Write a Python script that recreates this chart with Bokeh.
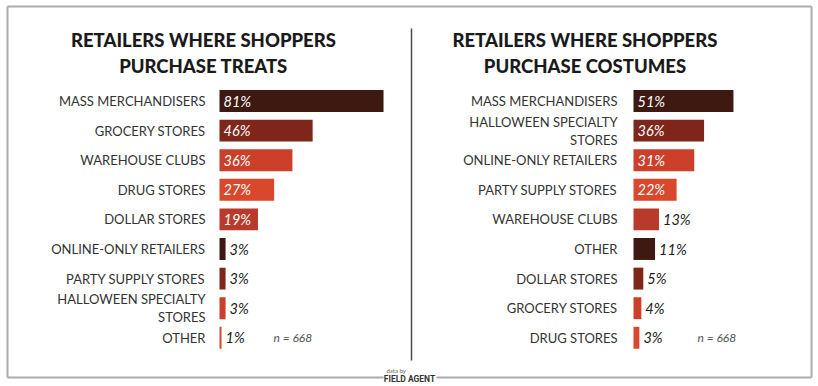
from bokeh.plotting import figure
from bokeh.models import Range1d, ColumnDataSource
from bokeh.core.properties import value
from bokeh.embed import file_html
from bokeh.resources import INLINE

# ---------------- data ----------------
treat_title = "RETAILERS WHERE SHOPPERS\nPURCHASE TREATS"
treat_categories = ["MASS MERCHANDISERS", "GROCERY STORES", "WAREHOUSE CLUBS", "DRUG STORES",
                    "DOLLAR STORES", "ONLINE-ONLY RETAILERS", "PARTY SUPPLY STORES",
                    "HALLOWEEN SPECIALTY\nSTORES", "OTHER"]
treat_values = [81, 46, 36, 27, 19, 3, 3, 3, 1]

costume_title = "RETAILERS WHERE SHOPPERS\nPURCHASE COSTUMES"
costume_categories = ["MASS MERCHANDISERS", "HALLOWEEN SPECIALTY\nSTORES", "ONLINE-ONLY RETAILERS",
                      "PARTY SUPPLY STORES", "WAREHOUSE CLUBS", "OTHER", "DOLLAR STORES",
                      "GROCERY STORES", "DRUG STORES"]
costume_values = [51, 36, 31, 22, 13, 11, 5, 4, 3]

n_respondents = 668
source_text = "data by"
brand_text = "FIELD AGENT"

# ---------------- styling ----------------
palette = ["#3d1911", "#7e2619", "#cc3f2b", "#d9472d", "#b9392b"]
W, H = 818, 386
LX0, LS = 219.0, 2.025     # left panel: pixel of zero, px per percent
RX0, RS = 633.0, 1.96      # right panel
RY0, RSY = 100.5, 29.6     # first row pixel, px per row
FONT = value("Lato")


def X(fx):
    return (fx - LX0) / LS


def Y(fy):
    return (fy - RY0) / RSY


p = figure(width=W, height=H, output_backend="svg", toolbar_location=None,
           x_range=Range1d(X(0), X(W)), y_range=Range1d(Y(H), Y(0)),
           x_axis_location=None, y_axis_location=None, min_border=0,
           outline_line_color=None, background_fill_color="white",
           border_fill_color="white")
p.grid.visible = False
p.extra_x_ranges = {"costume": Range1d((0 - RX0) / RS, (W - RX0) / RS)}


def panel(cats, vals, rng, label_gap):
    n = len(vals)
    ys = list(range(n))
    colors = [palette[i % len(palette)] for i in range(n)]
    src = ColumnDataSource(dict(y=ys, v=vals, c=colors, cat=cats))
    p.hbar(y="y", left=0, right="v", height=0.74, fill_color="c", line_color=None,
           source=src, x_range_name=rng)
    p.text(x=0, y="y", text="cat", source=src, x_range_name=rng, x_offset=-label_gap,
           text_align="right", text_baseline="middle", text_font=FONT,
           text_font_size="13px", text_color="#333333", text_line_height=1.12)
    inside = [i for i, v in enumerate(vals) if v >= 15]
    outside = [i for i, v in enumerate(vals) if v < 15]
    src_in = ColumnDataSource(dict(y=[ys[i] for i in inside], lab=[f"{vals[i]}%" for i in inside]))
    src_out = ColumnDataSource(dict(y=[ys[i] for i in outside], v=[vals[i] for i in outside],
                                    lab=[f"{vals[i]}%" for i in outside]))
    p.text(x=0, y="y", text="lab", source=src_in, x_range_name=rng, x_offset=4,
           text_align="left", text_baseline="middle", text_font=FONT,
           text_font_style="italic", text_font_size="14.5px", text_color="white")
    p.text(x="v", y="y", text="lab", source=src_out, x_range_name=rng, x_offset=4,
           text_align="left", text_baseline="middle", text_font=FONT,
           text_font_style="italic", text_font_size="14.5px", text_color="#1a1a1a")
    return n


nl = panel(treat_categories, treat_values, "default", 14)
nr = panel(costume_categories, costume_values, "costume", 16)

# n labels
p.text(x=[X(273)], y=[nl - 1], text=[f"n = {n_respondents}"], text_align="left",
       text_baseline="middle", text_font=FONT, text_font_style="italic",
       text_font_size="12px", text_color="#555555")
p.text(x=[(697 - RX0) / RS], y=[nr - 1], text=[f"n = {n_respondents}"], x_range_name="costume",
       text_align="left", text_baseline="middle", text_font=FONT, text_font_style="italic",
       text_font_size="12px", text_color="#555555")

# titles
p.text(x=[X(203), X(584.5)], y=[Y(52.5), Y(52.5)], text=[treat_title, costume_title],
       text_align="center", text_baseline="middle", text_font=value("Lato Black, Lato"),
       text_font_style="bold", text_font_size="18.5px", text_color="#1a1a1a",
       text_line_height=1.15)

# frame
fc = "#ababab"
p.segment(x0=[X(7), X(7), X(811), X(7), X(436)],
          y0=[Y(6), Y(6), Y(6), Y(377), Y(377)],
          x1=[X(811), X(7), X(811), X(383), X(811)],
          y1=[Y(6), Y(377), Y(377), Y(377), Y(377)],
          line_color=fc, line_width=2)

# divider
p.segment(x0=[X(411)], y0=[Y(28)], x1=[X(411)], y1=[Y(360)], line_color="#4a4a4a", line_width=1.5)

# logo
p.text(x=[X(386)], y=[Y(370)], text=[source_text], text_align="left", text_baseline="middle",
       text_font=FONT, text_font_size="6px", text_color="#666666")
p.text(x=[X(409)], y=[Y(378)], text=[brand_text], text_align="center", text_baseline="middle",
       text_font=value("Roboto"), text_font_style="bold", text_font_size="8.5px",
       text_color="#333333")

open("out.html", "w").write(file_html(p, INLINE))
